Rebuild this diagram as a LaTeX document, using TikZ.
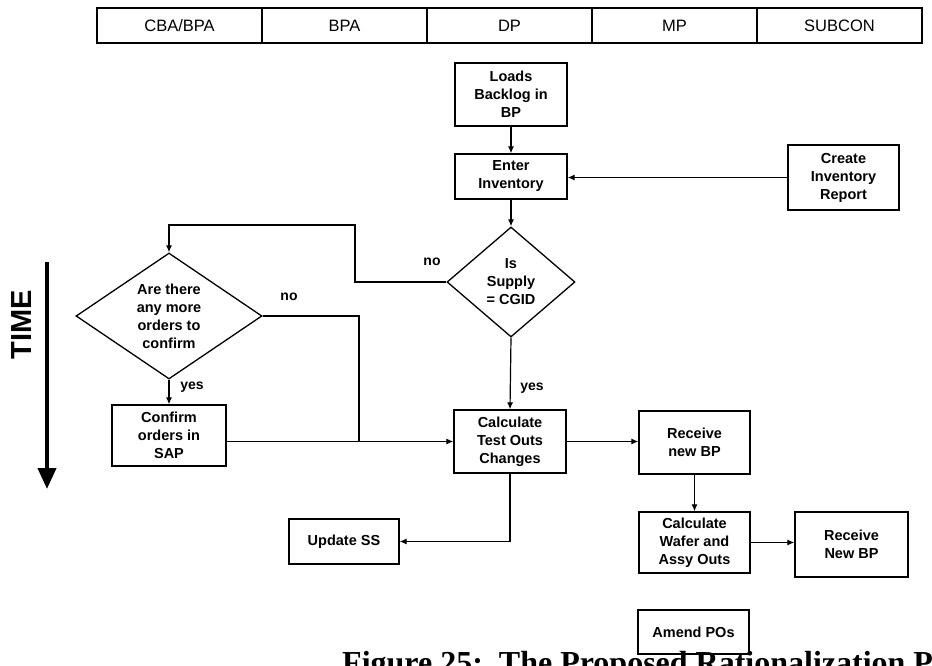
\documentclass[tikz,border=0pt]{standalone}
\usepackage{fontspec}
\setmainfont{Liberation Sans}
\newfontfamily\capfont{Liberation Serif}
\usetikzlibrary{shapes.geometric,arrows.meta}

\begin{document}
\begin{tikzpicture}[x=1pt,y=-1pt,
  lane/.style={draw, line width=1.1pt, minimum width=165pt, minimum height=35pt,
    inner sep=0pt, font=\fontsize{16.5}{19}\selectfont},
  proc/.style={draw, line width=1.3pt, inner sep=0pt, align=center,
    font=\fontsize{14.5}{18}\selectfont\bfseries},
  decision/.style={draw, diamond, line width=1.3pt, inner sep=0pt},
  dtext/.style={align=center, inner sep=0pt, font=\fontsize{14.5}{18}\selectfont\bfseries},
  lbl/.style={inner sep=0pt, font=\fontsize{14}{16}\selectfont\bfseries},
  link/.style={line width=1.2pt},
  arr/.style={link, -{Latex[length=7pt,width=6pt]}},
]
\useasboundingbox (0,0) rectangle (932,666);

% swim-lane header
\node[lane] (h1) at (179.5,25.5) {CBA/BPA};
\node[lane] (h2) at (344.5,25.5) {BPA};
\node[lane] (h3) at (509.5,25.5) {DP};
\node[lane] (h4) at (674.5,25.5) {MP};
\node[lane] (h5) at (839.5,25.5) {SUBCON};

% time axis
\coordinate (tTop) at (47,262);
\coordinate (tEnd) at (47,489);
\draw[line width=4pt, -{Triangle[length=21pt,width=18pt]}] (tTop) -- (tEnd);
\node[rotate=90, inner sep=0pt, font=\fontsize{29}{30}\selectfont\bfseries] (time) at (22,325) {TIME};

% process steps
\node[proc, minimum width=112pt, minimum height=63pt] (loads) at (511,94.5) {Loads\\Backlog in\\BP};
\node[proc, minimum width=112pt, minimum height=45pt] (enter) at (511,176.5) {Enter\\Inventory};
\node[proc, minimum width=111pt, minimum height=65pt] (report) at (843.5,177.5) {Create\\Inventory\\Report};
\node[decision, minimum width=128pt, minimum height=110pt] (supply) at (511,282) {};
\node[dtext] at (supply) {Is\\Supply\\= CGID};
\node[decision, minimum width=186pt, minimum height=126pt] (more) at (169,316) {};
\node[dtext] at (more) {Are there\\any more\\orders to\\confirm};
\node[proc, minimum width=114pt, minimum height=61pt] (confirm) at (169,435.5) {Confirm\\orders in\\SAP};
\node[proc, minimum width=112pt, minimum height=63pt] (calc) at (510,441.5) {Calculate\\Test Outs\\Changes};
\node[proc, minimum width=111pt, minimum height=63pt] (recv1) at (694.5,442.5) {Receive\\new BP};
\node[proc, minimum width=111pt, minimum height=61pt] (wafer) at (694.5,542.5) {Calculate\\Wafer and\\Assy Outs};
\node[proc, minimum width=113pt, minimum height=65pt] (recv2) at (851.5,544.5) {Receive\\New BP};
\node[proc, minimum width=110pt, minimum height=45pt] (update) at (344,541.5) {Update SS};
\node[proc, minimum width=111pt, minimum height=44pt] (amend) at (693.5,632) {Amend POs};

% connectors
\coordinate (noTurn) at (355,225);
\coordinate (join) at (359,441.5);
\draw[arr] (loads) -- (enter);
\draw[arr] (report.west) -- (report.west -| enter.east);
\draw[arr] (enter) -- (supply.north);
\draw[arr] (supply.west) -| (noTurn) -| (more.north);
\draw[arr] (more.south) -- (confirm.north);
\draw[link] (more.east) -| (join);
\draw[arr] (calc.west -| confirm.east) -- (calc.west);
\draw[arr] (supply.south) -- (calc.north);
\draw[arr] (calc.east) -- (calc.east -| recv1.west);
\draw[arr] (recv1) -- (wafer);
\draw[arr] (wafer.east) -- (wafer.east -| recv2.west);
\draw[arr] (calc.south) |- (update.east);

% branch labels
\node[lbl] (noA) at (432,262) {no};
\node[lbl] (noB) at (289,297) {no};
\node[lbl] (yesA) at (192,387) {yes};
\node[lbl] (yesB) at (532,388) {yes};

% caption, cut by the page edge
\begin{scope}
\clip (0,0) rectangle (932,666);
\node[anchor=base west, inner sep=0pt, font=\capfont\fontsize{32}{34}\selectfont\bfseries] (cap) at (342,673) {Figure 25:\ \ The Proposed Rationalization Process};
\end{scope}
\end{tikzpicture}
\end{document}
